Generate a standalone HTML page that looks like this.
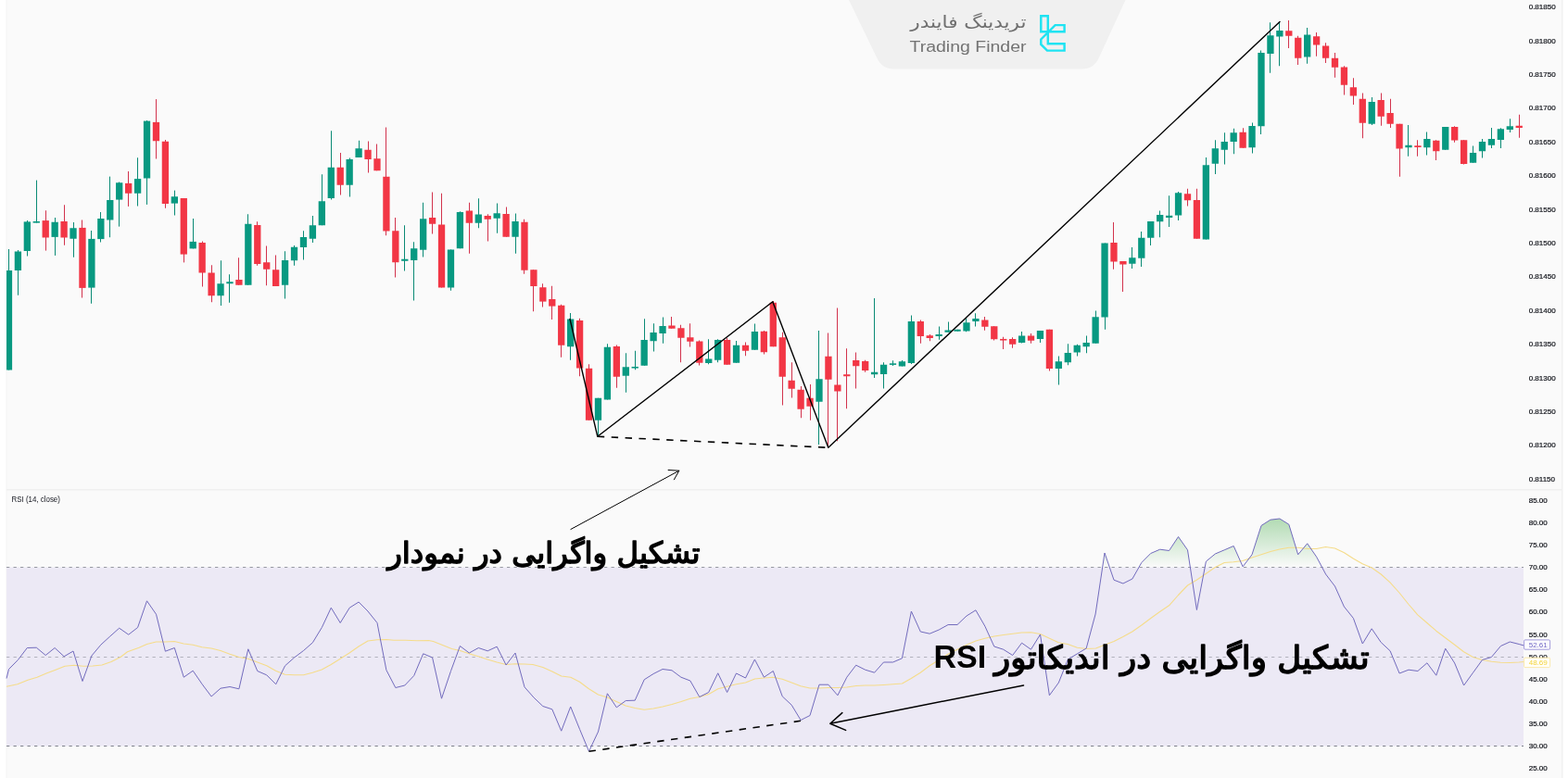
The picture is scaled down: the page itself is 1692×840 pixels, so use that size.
<!DOCTYPE html>
<html lang="fa">
<head>
<meta charset="utf-8">
<title>Trading Finder - RSI Divergence</title>
<style>
html,body{margin:0;padding:0;background:#fff;}
body{width:1692px;height:840px;overflow:hidden;}
svg{display:block;}
text{font-family:"Liberation Sans","DejaVu Sans",sans-serif;}
.ax{font-size:8px;fill:#0c0e15;stroke:#0c0e15;stroke-width:0.2px;}
.fa{font-family:"DejaVu Sans","Liberation Sans",sans-serif;font-weight:normal;fill:#000;stroke:#000;stroke-width:1.5px;stroke-linejoin:round;}
</style>
</head>
<body>
<svg width="1692" height="840" viewBox="0 0 1692 840">
<defs>
<linearGradient id="ob" x1="0" y1="612.5" x2="0" y2="556" gradientUnits="userSpaceOnUse">
<stop offset="0" stop-color="#4caf50" stop-opacity="0"/>
<stop offset="1" stop-color="#4caf50" stop-opacity="0.45"/>
</linearGradient>
<clipPath id="above70"><rect x="7" y="530" width="1637" height="82.5"/></clipPath>
</defs>
<rect x="0" y="0" width="1692" height="840" fill="#ffffff"/>
<rect x="7" y="0" width="1679" height="840" fill="#fafafa"/>
<rect x="6.5" y="0" width="1" height="840" fill="#f3f3f3"/>
<rect x="1685" y="0" width="1.5" height="840" fill="#f1f1f1"/>

<path d="M916 0 L1214.5 0 L1186 62 Q1180.5 74.5 1167 74.5 L965 74.5 Q951.5 74.5 946 62 Z" fill="#f0f0f0"/>
<rect x="7" y="528" width="1679" height="1.6" fill="#f0f0f0"/>
<rect x="7" y="612.5" width="1637" height="193" fill="#ece9f5"/>
<g stroke="#787b86" stroke-width="1" stroke-dasharray="3.3 4.2" fill="none">
<line x1="7" y1="612.5" x2="1644" y2="612.5" opacity="0.75"/>
<line x1="7" y1="709.5" x2="1644" y2="709.5" opacity="0.5"/>
<line x1="7" y1="805.5" x2="1644" y2="805.5" opacity="0.95"/>
</g>
<path d="M7.0 732.5 L9.5 722.5 L19.4 712.5 L29.3 699.5 L39.3 699.2 L49.2 707.5 L59.1 699.5 L69.1 708.8 L79.0 703.0 L89.0 735.5 L98.9 708.0 L108.8 696.2 L118.8 687.0 L128.7 678.2 L138.7 685.2 L148.6 677.5 L158.5 648.8 L168.5 663.2 L178.4 703.2 L188.3 699.5 L198.3 731.2 L208.2 724.2 L218.2 738.8 L228.1 752.0 L238.0 743.2 L248.0 741.5 L257.9 743.8 L267.8 700.8 L277.8 724.5 L287.7 728.8 L297.7 738.8 L307.6 718.8 L317.5 710.0 L327.5 702.5 L337.4 693.8 L347.3 677.5 L357.3 656.2 L367.2 672.5 L377.2 656.2 L387.1 650.0 L397.0 660.0 L407.0 672.5 L416.9 723.5 L426.8 742.5 L436.8 740.0 L446.7 729.5 L456.7 705.8 L466.6 710.0 L476.5 754.2 L486.5 724.5 L496.4 697.5 L506.3 705.0 L516.3 699.5 L526.2 702.8 L536.2 698.2 L546.1 718.0 L556.0 705.0 L566.0 741.8 L575.9 753.0 L585.8 762.5 L595.8 765.8 L605.7 789.2 L615.7 763.0 L625.6 787.5 L635.5 811.2 L645.5 790.0 L655.4 748.8 L665.3 763.8 L675.3 756.5 L685.2 756.2 L695.2 733.8 L705.1 727.5 L715.0 722.5 L725.0 723.8 L734.9 731.2 L744.8 735.0 L754.8 752.5 L764.7 747.5 L774.7 726.8 L784.6 747.5 L794.5 727.0 L804.5 732.0 L814.4 712.0 L824.4 731.2 L834.3 724.5 L844.2 751.8 L854.2 761.2 L864.1 777.5 L874.0 772.5 L884.0 739.2 L893.9 739.2 L903.9 750.8 L913.8 731.2 L923.7 718.2 L933.7 723.2 L943.6 726.2 L953.5 715.0 L963.5 715.0 L973.4 710.8 L983.4 660.0 L993.3 682.0 L1003.2 684.2 L1013.2 680.0 L1023.1 674.5 L1033.0 674.5 L1043.0 665.0 L1052.9 658.8 L1062.9 676.2 L1072.8 698.0 L1082.7 701.2 L1092.7 707.5 L1102.6 694.2 L1112.5 701.2 L1122.5 685.0 L1132.4 750.8 L1142.4 737.0 L1152.3 712.0 L1162.2 706.0 L1172.2 700.0 L1182.1 663.0 L1192.0 597.0 L1202.0 626.2 L1211.9 630.0 L1221.9 625.0 L1231.8 607.5 L1241.7 597.5 L1251.7 593.2 L1261.6 594.5 L1271.5 579.5 L1281.5 593.8 L1291.4 658.5 L1301.4 606.2 L1311.3 598.0 L1321.2 593.8 L1331.2 589.5 L1341.1 611.8 L1351.0 598.8 L1361.0 567.5 L1370.9 561.2 L1380.9 560.0 L1390.8 566.2 L1400.7 598.8 L1410.7 586.8 L1420.6 601.2 L1430.6 620.0 L1440.5 633.0 L1450.4 655.0 L1460.4 667.5 L1470.3 695.0 L1480.2 678.8 L1490.2 693.5 L1500.1 702.8 L1510.1 727.0 L1520.0 723.2 L1529.9 724.5 L1539.9 715.8 L1549.8 729.2 L1559.7 700.2 L1569.7 716.0 L1579.6 740.0 L1589.6 726.2 L1599.5 712.5 L1609.4 709.5 L1619.4 697.5 L1629.3 693.0 L1639.2 695.5 L1644.5 697.0 L1644.5 612.5 L7 612.5 Z" fill="url(#ob)" clip-path="url(#above70)"/>
<path d="M7.0 741.2 L18.8 738.8 L30.0 734.2 L40.0 731.2 L50.0 727.0 L60.0 723.2 L70.0 719.2 L80.0 718.2 L90.0 719.2 L100.0 719.0 L110.0 718.0 L120.0 714.5 L130.0 709.5 L137.5 703.8 L150.0 699.2 L158.5 695.5 L168.5 693.0 L178.5 693.0 L188.2 692.5 L198.2 695.0 L208.2 696.2 L218.0 698.8 L228.0 700.0 L238.0 702.5 L248.0 706.2 L257.8 709.5 L267.8 711.2 L277.8 715.0 L287.8 718.8 L297.5 724.2 L307.5 728.2 L317.5 728.8 L327.5 728.8 L337.2 726.2 L347.2 723.0 L357.2 717.5 L367.2 711.2 L377.0 705.0 L387.0 698.0 L397.0 692.0 L407.0 690.8 L417.0 690.5 L425.0 691.2 L437.5 691.2 L450.0 691.8 L462.5 691.5 L467.5 692.5 L475.0 695.5 L487.5 700.5 L496.5 702.5 L506.2 705.8 L516.2 708.8 L526.2 712.0 L536.2 715.0 L546.0 717.5 L556.0 716.8 L566.0 717.0 L575.0 717.5 L585.8 720.5 L595.8 725.0 L605.8 730.0 L615.8 731.2 L625.5 736.2 L635.5 743.8 L645.5 750.0 L655.5 753.0 L665.2 757.5 L675.2 762.0 L685.2 764.5 L695.2 766.2 L705.0 765.0 L715.0 763.0 L725.0 760.5 L735.0 757.5 L744.8 754.2 L754.8 752.5 L764.8 749.5 L774.8 743.8 L784.5 741.2 L794.5 738.8 L804.5 737.0 L814.5 733.0 L824.2 732.0 L834.2 731.2 L844.2 733.2 L854.2 737.0 L864.0 740.8 L874.0 743.0 L884.0 743.0 L894.0 742.5 L903.8 742.5 L913.8 742.0 L923.8 740.5 L933.8 740.0 L943.5 740.0 L953.5 739.5 L963.5 738.8 L973.5 738.0 L983.2 732.5 L993.2 726.2 L1003.2 718.8 L1013.2 712.5 L1023.0 706.2 L1033.0 701.2 L1043.0 696.2 L1053.0 692.0 L1062.8 689.2 L1072.8 687.0 L1082.8 685.5 L1092.8 684.2 L1102.5 683.0 L1112.5 682.8 L1122.5 684.5 L1132.5 689.2 L1142.2 693.8 L1152.2 695.5 L1162.5 699.2 L1172.5 700.5 L1182.5 700.0 L1192.0 696.2 L1202.0 692.5 L1211.8 687.5 L1221.8 682.0 L1231.8 675.0 L1241.8 667.5 L1251.5 660.5 L1261.5 653.8 L1271.5 642.5 L1281.5 632.0 L1291.2 626.2 L1301.2 619.5 L1311.2 612.5 L1321.2 607.5 L1331.0 606.8 L1341.0 605.5 L1351.0 602.0 L1361.0 598.8 L1371.0 595.5 L1380.8 593.0 L1390.8 591.2 L1400.8 591.2 L1410.8 592.5 L1420.5 592.5 L1430.5 590.5 L1440.5 592.0 L1450.5 596.8 L1460.2 603.0 L1470.2 608.8 L1480.2 613.0 L1490.2 620.0 L1500.0 628.8 L1510.0 640.0 L1520.0 652.5 L1529.8 663.8 L1539.8 672.5 L1549.8 681.2 L1559.8 688.8 L1569.8 696.2 L1579.5 703.8 L1589.5 709.5 L1599.5 712.5 L1609.5 714.2 L1619.2 715.2 L1629.2 715.5 L1639.2 715.0 L1644.5 714.5" fill="none" stroke="#f5dc8a" stroke-width="1.1" stroke-linejoin="round"/>
<path d="M7.0 732.5 L9.5 722.5 L19.4 712.5 L29.3 699.5 L39.3 699.2 L49.2 707.5 L59.1 699.5 L69.1 708.8 L79.0 703.0 L89.0 735.5 L98.9 708.0 L108.8 696.2 L118.8 687.0 L128.7 678.2 L138.7 685.2 L148.6 677.5 L158.5 648.8 L168.5 663.2 L178.4 703.2 L188.3 699.5 L198.3 731.2 L208.2 724.2 L218.2 738.8 L228.1 752.0 L238.0 743.2 L248.0 741.5 L257.9 743.8 L267.8 700.8 L277.8 724.5 L287.7 728.8 L297.7 738.8 L307.6 718.8 L317.5 710.0 L327.5 702.5 L337.4 693.8 L347.3 677.5 L357.3 656.2 L367.2 672.5 L377.2 656.2 L387.1 650.0 L397.0 660.0 L407.0 672.5 L416.9 723.5 L426.8 742.5 L436.8 740.0 L446.7 729.5 L456.7 705.8 L466.6 710.0 L476.5 754.2 L486.5 724.5 L496.4 697.5 L506.3 705.0 L516.3 699.5 L526.2 702.8 L536.2 698.2 L546.1 718.0 L556.0 705.0 L566.0 741.8 L575.9 753.0 L585.8 762.5 L595.8 765.8 L605.7 789.2 L615.7 763.0 L625.6 787.5 L635.5 811.2 L645.5 790.0 L655.4 748.8 L665.3 763.8 L675.3 756.5 L685.2 756.2 L695.2 733.8 L705.1 727.5 L715.0 722.5 L725.0 723.8 L734.9 731.2 L744.8 735.0 L754.8 752.5 L764.7 747.5 L774.7 726.8 L784.6 747.5 L794.5 727.0 L804.5 732.0 L814.4 712.0 L824.4 731.2 L834.3 724.5 L844.2 751.8 L854.2 761.2 L864.1 777.5 L874.0 772.5 L884.0 739.2 L893.9 739.2 L903.9 750.8 L913.8 731.2 L923.7 718.2 L933.7 723.2 L943.6 726.2 L953.5 715.0 L963.5 715.0 L973.4 710.8 L983.4 660.0 L993.3 682.0 L1003.2 684.2 L1013.2 680.0 L1023.1 674.5 L1033.0 674.5 L1043.0 665.0 L1052.9 658.8 L1062.9 676.2 L1072.8 698.0 L1082.7 701.2 L1092.7 707.5 L1102.6 694.2 L1112.5 701.2 L1122.5 685.0 L1132.4 750.8 L1142.4 737.0 L1152.3 712.0 L1162.2 706.0 L1172.2 700.0 L1182.1 663.0 L1192.0 597.0 L1202.0 626.2 L1211.9 630.0 L1221.9 625.0 L1231.8 607.5 L1241.7 597.5 L1251.7 593.2 L1261.6 594.5 L1271.5 579.5 L1281.5 593.8 L1291.4 658.5 L1301.4 606.2 L1311.3 598.0 L1321.2 593.8 L1331.2 589.5 L1341.1 611.8 L1351.0 598.8 L1361.0 567.5 L1370.9 561.2 L1380.9 560.0 L1390.8 566.2 L1400.7 598.8 L1410.7 586.8 L1420.6 601.2 L1430.6 620.0 L1440.5 633.0 L1450.4 655.0 L1460.4 667.5 L1470.3 695.0 L1480.2 678.8 L1490.2 693.5 L1500.1 702.8 L1510.1 727.0 L1520.0 723.2 L1529.9 724.5 L1539.9 715.8 L1549.8 729.2 L1559.7 700.2 L1569.7 716.0 L1579.6 740.0 L1589.6 726.2 L1599.5 712.5 L1609.4 709.5 L1619.4 697.5 L1629.3 693.0 L1639.2 695.5 L1644.5 697.0" fill="none" stroke="#726bbd" stroke-width="1" stroke-linejoin="round"/>
<g shape-rendering="auto">
<rect x="9" y="269.00" width="1" height="130.50" fill="#0a8a75"/>
<rect x="7.00" y="292.00" width="6.11" height="107.50" fill="#089981"/>
<rect x="19" y="270.00" width="1" height="48.75" fill="#0a8a75"/>
<rect x="15.75" y="271.50" width="7.30" height="20.50" fill="#089981"/>
<rect x="29" y="238.00" width="1" height="38.50" fill="#0a8a75"/>
<rect x="25.69" y="239.40" width="7.30" height="31.60" fill="#089981"/>
<rect x="39" y="194.60" width="1" height="46.00" fill="#0a8a75"/>
<rect x="35.62" y="239.00" width="7.30" height="1.60" fill="#089981"/>
<rect x="49" y="227.25" width="1" height="43.35" fill="#d2334d"/>
<rect x="45.56" y="238.10" width="7.30" height="18.40" fill="#f23645"/>
<rect x="59" y="235.00" width="1" height="40.90" fill="#0a8a75"/>
<rect x="55.50" y="239.75" width="7.30" height="16.15" fill="#089981"/>
<rect x="69" y="221.25" width="1" height="43.50" fill="#d2334d"/>
<rect x="65.44" y="239.00" width="7.30" height="17.50" fill="#f23645"/>
<rect x="79" y="240.00" width="1" height="37.75" fill="#0a8a75"/>
<rect x="75.37" y="246.25" width="7.30" height="11.50" fill="#089981"/>
<rect x="88" y="237.50" width="1" height="84.00" fill="#d2334d"/>
<rect x="85.31" y="245.90" width="7.30" height="65.00" fill="#f23645"/>
<rect x="98" y="249.00" width="1" height="78.75" fill="#0a8a75"/>
<rect x="95.25" y="257.90" width="7.30" height="52.70" fill="#089981"/>
<rect x="108" y="229.00" width="1" height="32.50" fill="#0a8a75"/>
<rect x="105.19" y="236.00" width="7.30" height="22.10" fill="#089981"/>
<rect x="118" y="190.60" width="1" height="65.65" fill="#0a8a75"/>
<rect x="115.12" y="216.00" width="7.30" height="21.50" fill="#089981"/>
<rect x="128" y="196.50" width="1" height="48.10" fill="#0a8a75"/>
<rect x="125.06" y="197.25" width="7.30" height="18.35" fill="#089981"/>
<rect x="138" y="185.00" width="1" height="37.90" fill="#d2334d"/>
<rect x="135.00" y="197.90" width="7.30" height="10.85" fill="#f23645"/>
<rect x="148" y="170.25" width="1" height="52.25" fill="#0a8a75"/>
<rect x="144.94" y="193.10" width="7.30" height="15.65" fill="#089981"/>
<rect x="158" y="130.00" width="1" height="90.90" fill="#0a8a75"/>
<rect x="154.88" y="130.60" width="7.30" height="61.90" fill="#089981"/>
<rect x="168" y="107.10" width="1" height="64.40" fill="#d2334d"/>
<rect x="164.81" y="131.90" width="7.30" height="20.35" fill="#f23645"/>
<rect x="178" y="151.00" width="1" height="73.75" fill="#d2334d"/>
<rect x="174.75" y="152.75" width="7.30" height="67.25" fill="#f23645"/>
<rect x="188" y="205.60" width="1" height="26.90" fill="#0a8a75"/>
<rect x="184.69" y="212.25" width="7.30" height="7.35" fill="#089981"/>
<rect x="198" y="214.00" width="1" height="69.40" fill="#d2334d"/>
<rect x="194.63" y="214.00" width="7.30" height="60.60" fill="#f23645"/>
<rect x="208" y="236.00" width="1" height="32.40" fill="#0a8a75"/>
<rect x="204.56" y="260.90" width="7.30" height="7.50" fill="#089981"/>
<rect x="218" y="260.50" width="1" height="49.00" fill="#d2334d"/>
<rect x="214.50" y="262.00" width="7.30" height="32.50" fill="#f23645"/>
<rect x="228" y="286.25" width="1" height="40.00" fill="#d2334d"/>
<rect x="224.44" y="294.50" width="7.30" height="24.75" fill="#f23645"/>
<rect x="238" y="281.25" width="1" height="48.75" fill="#0a8a75"/>
<rect x="234.38" y="306.25" width="7.30" height="13.00" fill="#089981"/>
<rect x="247" y="296.25" width="1" height="30.50" fill="#0a8a75"/>
<rect x="244.31" y="304.25" width="7.30" height="2.00" fill="#089981"/>
<rect x="257" y="278.25" width="1" height="29.50" fill="#d2334d"/>
<rect x="254.25" y="302.00" width="7.30" height="5.75" fill="#f23645"/>
<rect x="267" y="231.25" width="1" height="76.50" fill="#0a8a75"/>
<rect x="264.19" y="241.75" width="7.30" height="66.00" fill="#089981"/>
<rect x="277" y="239.25" width="1" height="47.50" fill="#d2334d"/>
<rect x="274.13" y="243.00" width="7.30" height="42.00" fill="#f23645"/>
<rect x="287" y="265.50" width="1" height="42.75" fill="#d2334d"/>
<rect x="284.07" y="283.25" width="7.30" height="7.50" fill="#f23645"/>
<rect x="297" y="275.50" width="1" height="33.50" fill="#d2334d"/>
<rect x="294.00" y="291.25" width="7.30" height="17.75" fill="#f23645"/>
<rect x="307" y="271.25" width="1" height="51.25" fill="#0a8a75"/>
<rect x="303.94" y="281.00" width="7.30" height="26.75" fill="#089981"/>
<rect x="317" y="265.00" width="1" height="21.75" fill="#0a8a75"/>
<rect x="313.88" y="266.75" width="7.30" height="14.50" fill="#089981"/>
<rect x="327" y="249.25" width="1" height="31.25" fill="#0a8a75"/>
<rect x="323.82" y="256.00" width="7.30" height="11.00" fill="#089981"/>
<rect x="337" y="233.00" width="1" height="29.00" fill="#0a8a75"/>
<rect x="333.75" y="243.25" width="7.30" height="14.50" fill="#089981"/>
<rect x="347" y="188.25" width="1" height="55.00" fill="#0a8a75"/>
<rect x="343.69" y="217.25" width="7.30" height="26.00" fill="#089981"/>
<rect x="357" y="141.25" width="1" height="74.25" fill="#0a8a75"/>
<rect x="353.63" y="180.75" width="7.30" height="33.25" fill="#089981"/>
<rect x="367" y="165.00" width="1" height="45.50" fill="#d2334d"/>
<rect x="363.57" y="180.75" width="7.30" height="19.00" fill="#f23645"/>
<rect x="377" y="170.50" width="1" height="42.00" fill="#0a8a75"/>
<rect x="373.50" y="172.00" width="7.30" height="27.75" fill="#089981"/>
<rect x="387" y="151.75" width="1" height="18.25" fill="#0a8a75"/>
<rect x="383.44" y="160.25" width="7.30" height="9.75" fill="#089981"/>
<rect x="397" y="152.50" width="1" height="34.00" fill="#d2334d"/>
<rect x="393.38" y="161.75" width="7.30" height="10.25" fill="#f23645"/>
<rect x="406" y="155.50" width="1" height="28.75" fill="#d2334d"/>
<rect x="403.32" y="171.25" width="7.30" height="13.00" fill="#f23645"/>
<rect x="416" y="137.50" width="1" height="116.75" fill="#d2334d"/>
<rect x="413.26" y="190.75" width="7.30" height="58.75" fill="#f23645"/>
<rect x="426" y="235.00" width="1" height="64.50" fill="#d2334d"/>
<rect x="423.19" y="249.25" width="7.30" height="34.00" fill="#f23645"/>
<rect x="436" y="243.25" width="1" height="49.25" fill="#0a8a75"/>
<rect x="433.13" y="279.75" width="7.30" height="2.00" fill="#089981"/>
<rect x="446" y="261.25" width="1" height="63.25" fill="#0a8a75"/>
<rect x="443.07" y="268.25" width="7.30" height="12.75" fill="#089981"/>
<rect x="456" y="218.75" width="1" height="58.75" fill="#0a8a75"/>
<rect x="453.01" y="236.25" width="7.30" height="33.50" fill="#089981"/>
<rect x="466" y="207.50" width="1" height="45.00" fill="#d2334d"/>
<rect x="462.94" y="235.00" width="7.30" height="6.75" fill="#f23645"/>
<rect x="476" y="208.75" width="1" height="101.75" fill="#d2334d"/>
<rect x="472.88" y="242.50" width="7.30" height="68.00" fill="#f23645"/>
<rect x="486" y="269.50" width="1" height="44.25" fill="#0a8a75"/>
<rect x="482.82" y="269.50" width="7.30" height="41.00" fill="#089981"/>
<rect x="496" y="228.25" width="1" height="40.00" fill="#0a8a75"/>
<rect x="492.76" y="229.00" width="7.30" height="39.25" fill="#089981"/>
<rect x="506" y="218.75" width="1" height="55.00" fill="#d2334d"/>
<rect x="502.69" y="227.50" width="7.30" height="13.25" fill="#f23645"/>
<rect x="516" y="214.25" width="1" height="32.00" fill="#0a8a75"/>
<rect x="512.63" y="231.50" width="7.30" height="9.25" fill="#089981"/>
<rect x="526" y="231.25" width="1" height="29.25" fill="#d2334d"/>
<rect x="522.57" y="233.00" width="7.30" height="3.75" fill="#f23645"/>
<rect x="536" y="219.50" width="1" height="32.25" fill="#0a8a75"/>
<rect x="532.51" y="230.25" width="7.30" height="5.50" fill="#089981"/>
<rect x="546" y="223.50" width="1" height="32.25" fill="#d2334d"/>
<rect x="542.45" y="231.00" width="7.30" height="24.75" fill="#f23645"/>
<rect x="556" y="230.50" width="1" height="43.25" fill="#0a8a75"/>
<rect x="552.38" y="239.00" width="7.30" height="16.75" fill="#089981"/>
<rect x="565" y="236.75" width="1" height="59.00" fill="#d2334d"/>
<rect x="562.32" y="239.75" width="7.30" height="52.00" fill="#f23645"/>
<rect x="575" y="291.25" width="1" height="45.00" fill="#d2334d"/>
<rect x="572.26" y="291.25" width="7.30" height="17.75" fill="#f23645"/>
<rect x="585" y="306.25" width="1" height="25.25" fill="#d2334d"/>
<rect x="582.20" y="310.25" width="7.30" height="15.35" fill="#f23645"/>
<rect x="595" y="308.75" width="1" height="36.25" fill="#d2334d"/>
<rect x="592.13" y="323.00" width="7.30" height="7.60" fill="#f23645"/>
<rect x="605" y="328.75" width="1" height="57.00" fill="#d2334d"/>
<rect x="602.07" y="329.75" width="7.30" height="43.00" fill="#f23645"/>
<rect x="615" y="338.00" width="1" height="50.75" fill="#0a8a75"/>
<rect x="612.01" y="344.50" width="7.30" height="29.75" fill="#089981"/>
<rect x="625" y="343.75" width="1" height="62.50" fill="#d2334d"/>
<rect x="621.95" y="346.00" width="7.30" height="51.50" fill="#f23645"/>
<rect x="635" y="393.25" width="1" height="60.50" fill="#d2334d"/>
<rect x="631.89" y="397.75" width="7.30" height="56.00" fill="#f23645"/>
<rect x="645" y="429.75" width="1" height="41.50" fill="#0a8a75"/>
<rect x="641.82" y="429.75" width="7.30" height="24.00" fill="#089981"/>
<rect x="655" y="371.25" width="1" height="60.25" fill="#0a8a75"/>
<rect x="651.76" y="374.75" width="7.30" height="56.75" fill="#089981"/>
<rect x="665" y="372.50" width="1" height="46.25" fill="#d2334d"/>
<rect x="661.70" y="374.00" width="7.30" height="32.75" fill="#f23645"/>
<rect x="675" y="381.25" width="1" height="42.50" fill="#0a8a75"/>
<rect x="671.64" y="396.25" width="7.30" height="9.50" fill="#089981"/>
<rect x="685" y="378.75" width="1" height="20.50" fill="#0a8a75"/>
<rect x="681.57" y="395.95" width="7.30" height="1.60" fill="#089981"/>
<rect x="695" y="344.25" width="1" height="50.50" fill="#0a8a75"/>
<rect x="691.51" y="367.00" width="7.30" height="27.75" fill="#089981"/>
<rect x="705" y="349.25" width="1" height="30.25" fill="#0a8a75"/>
<rect x="701.45" y="359.00" width="7.30" height="9.25" fill="#089981"/>
<rect x="715" y="342.50" width="1" height="28.25" fill="#0a8a75"/>
<rect x="711.39" y="352.00" width="7.30" height="8.00" fill="#089981"/>
<rect x="724" y="342.00" width="1" height="12.75" fill="#d2334d"/>
<rect x="721.32" y="351.50" width="7.30" height="3.25" fill="#f23645"/>
<rect x="734" y="350.75" width="1" height="40.50" fill="#d2334d"/>
<rect x="731.26" y="354.25" width="7.30" height="10.50" fill="#f23645"/>
<rect x="744" y="349.25" width="1" height="25.25" fill="#d2334d"/>
<rect x="741.20" y="364.25" width="7.30" height="4.50" fill="#f23645"/>
<rect x="754" y="367.50" width="1" height="27.00" fill="#d2334d"/>
<rect x="751.14" y="368.50" width="7.30" height="23.25" fill="#f23645"/>
<rect x="764" y="366.25" width="1" height="27.00" fill="#0a8a75"/>
<rect x="761.08" y="387.50" width="7.30" height="4.50" fill="#089981"/>
<rect x="774" y="366.25" width="1" height="25.00" fill="#0a8a75"/>
<rect x="771.01" y="367.00" width="7.30" height="21.75" fill="#089981"/>
<rect x="784" y="365.00" width="1" height="28.75" fill="#d2334d"/>
<rect x="780.95" y="367.00" width="7.30" height="26.75" fill="#f23645"/>
<rect x="794" y="368.00" width="1" height="23.75" fill="#0a8a75"/>
<rect x="790.89" y="372.75" width="7.30" height="19.00" fill="#089981"/>
<rect x="804" y="369.50" width="1" height="14.75" fill="#d2334d"/>
<rect x="800.83" y="372.75" width="7.30" height="6.00" fill="#f23645"/>
<rect x="814" y="349.50" width="1" height="28.25" fill="#0a8a75"/>
<rect x="810.76" y="358.00" width="7.30" height="19.75" fill="#089981"/>
<rect x="824" y="357.00" width="1" height="25.50" fill="#d2334d"/>
<rect x="820.70" y="357.75" width="7.30" height="22.50" fill="#f23645"/>
<rect x="834" y="325.00" width="1" height="49.25" fill="#d2334d"/>
<rect x="830.64" y="326.75" width="7.30" height="47.50" fill="#f23645"/>
<rect x="844" y="358.75" width="1" height="78.75" fill="#d2334d"/>
<rect x="840.58" y="364.25" width="7.30" height="42.50" fill="#f23645"/>
<rect x="854" y="391.25" width="1" height="38.25" fill="#d2334d"/>
<rect x="850.51" y="410.75" width="7.30" height="9.00" fill="#f23645"/>
<rect x="864" y="417.00" width="1" height="34.25" fill="#d2334d"/>
<rect x="860.45" y="420.75" width="7.30" height="21.00" fill="#f23645"/>
<rect x="874" y="415.00" width="1" height="38.75" fill="#d2334d"/>
<rect x="870.39" y="429.75" width="7.30" height="9.00" fill="#f23645"/>
<rect x="883" y="357.00" width="1" height="123.00" fill="#0a8a75"/>
<rect x="880.33" y="409.25" width="7.30" height="24.50" fill="#089981"/>
<rect x="893" y="359.50" width="1" height="123.00" fill="#d2334d"/>
<rect x="890.27" y="384.75" width="7.30" height="25.00" fill="#f23645"/>
<rect x="903" y="332.50" width="1" height="143.75" fill="#d2334d"/>
<rect x="900.20" y="415.50" width="7.30" height="7.00" fill="#f23645"/>
<rect x="913" y="376.25" width="1" height="65.00" fill="#d2334d"/>
<rect x="910.14" y="404.25" width="7.30" height="2.00" fill="#f23645"/>
<rect x="923" y="380.50" width="1" height="39.00" fill="#d2334d"/>
<rect x="920.08" y="389.00" width="7.30" height="6.25" fill="#f23645"/>
<rect x="933" y="388.75" width="1" height="13.00" fill="#d2334d"/>
<rect x="930.02" y="390.00" width="7.30" height="10.00" fill="#f23645"/>
<rect x="943" y="322.00" width="1" height="86.00" fill="#0a8a75"/>
<rect x="939.95" y="401.75" width="7.30" height="2.50" fill="#089981"/>
<rect x="953" y="391.25" width="1" height="28.25" fill="#0a8a75"/>
<rect x="949.89" y="393.75" width="7.30" height="10.25" fill="#089981"/>
<rect x="963" y="389.25" width="1" height="5.75" fill="#0a8a75"/>
<rect x="959.83" y="392.32" width="7.30" height="1.60" fill="#089981"/>
<rect x="973" y="389.00" width="1" height="6.50" fill="#0a8a75"/>
<rect x="969.77" y="390.25" width="7.30" height="5.25" fill="#089981"/>
<rect x="983" y="340.50" width="1" height="52.50" fill="#0a8a75"/>
<rect x="979.70" y="347.00" width="7.30" height="45.00" fill="#089981"/>
<rect x="993" y="345.50" width="1" height="25.25" fill="#d2334d"/>
<rect x="989.64" y="347.00" width="7.30" height="16.00" fill="#f23645"/>
<rect x="1003" y="361.00" width="1" height="7.25" fill="#d2334d"/>
<rect x="999.58" y="362.25" width="7.30" height="2.75" fill="#f23645"/>
<rect x="1013" y="352.50" width="1" height="14.25" fill="#0a8a75"/>
<rect x="1009.52" y="361.00" width="7.30" height="2.00" fill="#089981"/>
<rect x="1023" y="347.50" width="1" height="11.25" fill="#0a8a75"/>
<rect x="1019.46" y="356.50" width="7.30" height="2.25" fill="#089981"/>
<rect x="1033" y="355.75" width="1" height="2.00" fill="#0a8a75"/>
<rect x="1029.39" y="355.75" width="7.30" height="2.00" fill="#089981"/>
<rect x="1042" y="343.00" width="1" height="15.25" fill="#0a8a75"/>
<rect x="1039.33" y="348.25" width="7.30" height="9.25" fill="#089981"/>
<rect x="1052" y="338.25" width="1" height="14.25" fill="#0a8a75"/>
<rect x="1049.27" y="344.00" width="7.30" height="3.00" fill="#089981"/>
<rect x="1062" y="342.00" width="1" height="14.75" fill="#d2334d"/>
<rect x="1059.21" y="345.50" width="7.30" height="7.25" fill="#f23645"/>
<rect x="1072" y="352.25" width="1" height="15.25" fill="#d2334d"/>
<rect x="1069.14" y="352.25" width="7.30" height="14.00" fill="#f23645"/>
<rect x="1082" y="363.75" width="1" height="13.25" fill="#d2334d"/>
<rect x="1079.08" y="365.95" width="7.30" height="1.60" fill="#f23645"/>
<rect x="1092" y="364.25" width="1" height="11.50" fill="#d2334d"/>
<rect x="1089.02" y="366.00" width="7.30" height="5.75" fill="#f23645"/>
<rect x="1102" y="358.00" width="1" height="12.50" fill="#0a8a75"/>
<rect x="1098.96" y="362.50" width="7.30" height="7.50" fill="#089981"/>
<rect x="1112" y="360.00" width="1" height="10.75" fill="#d2334d"/>
<rect x="1108.89" y="362.50" width="7.30" height="5.25" fill="#f23645"/>
<rect x="1122" y="357.00" width="1" height="13.00" fill="#0a8a75"/>
<rect x="1118.83" y="357.00" width="7.30" height="9.00" fill="#089981"/>
<rect x="1132" y="355.75" width="1" height="44.75" fill="#d2334d"/>
<rect x="1128.77" y="355.75" width="7.30" height="42.25" fill="#f23645"/>
<rect x="1142" y="384.50" width="1" height="31.00" fill="#0a8a75"/>
<rect x="1138.71" y="390.25" width="7.30" height="7.75" fill="#089981"/>
<rect x="1152" y="371.25" width="1" height="23.00" fill="#0a8a75"/>
<rect x="1148.65" y="381.00" width="7.30" height="10.25" fill="#089981"/>
<rect x="1162" y="371.75" width="1" height="12.75" fill="#0a8a75"/>
<rect x="1158.58" y="372.75" width="7.30" height="7.75" fill="#089981"/>
<rect x="1172" y="362.50" width="1" height="18.75" fill="#0a8a75"/>
<rect x="1168.52" y="370.00" width="7.30" height="4.25" fill="#089981"/>
<rect x="1182" y="335.50" width="1" height="35.25" fill="#0a8a75"/>
<rect x="1178.46" y="342.25" width="7.30" height="28.50" fill="#089981"/>
<rect x="1192" y="262.50" width="1" height="93.25" fill="#0a8a75"/>
<rect x="1188.40" y="262.50" width="7.30" height="80.00" fill="#089981"/>
<rect x="1201" y="240.00" width="1" height="50.75" fill="#d2334d"/>
<rect x="1198.33" y="262.00" width="7.30" height="20.50" fill="#f23645"/>
<rect x="1211" y="282.00" width="1" height="33.00" fill="#d2334d"/>
<rect x="1208.27" y="282.00" width="7.30" height="3.50" fill="#f23645"/>
<rect x="1221" y="267.00" width="1" height="23.00" fill="#0a8a75"/>
<rect x="1218.21" y="278.25" width="7.30" height="6.50" fill="#089981"/>
<rect x="1231" y="250.00" width="1" height="38.00" fill="#0a8a75"/>
<rect x="1228.15" y="256.75" width="7.30" height="22.00" fill="#089981"/>
<rect x="1241" y="239.00" width="1" height="26.00" fill="#0a8a75"/>
<rect x="1238.08" y="239.00" width="7.30" height="17.75" fill="#089981"/>
<rect x="1251" y="227.50" width="1" height="28.75" fill="#0a8a75"/>
<rect x="1248.02" y="232.00" width="7.30" height="7.25" fill="#089981"/>
<rect x="1261" y="211.25" width="1" height="33.75" fill="#0a8a75"/>
<rect x="1257.96" y="232.75" width="7.30" height="2.25" fill="#089981"/>
<rect x="1271" y="207.00" width="1" height="31.00" fill="#0a8a75"/>
<rect x="1267.90" y="208.25" width="7.30" height="24.25" fill="#089981"/>
<rect x="1281" y="203.75" width="1" height="18.75" fill="#d2334d"/>
<rect x="1277.84" y="209.25" width="7.30" height="7.00" fill="#f23645"/>
<rect x="1291" y="203.75" width="1" height="54.00" fill="#d2334d"/>
<rect x="1287.77" y="216.00" width="7.30" height="41.75" fill="#f23645"/>
<rect x="1301" y="170.00" width="1" height="88.50" fill="#0a8a75"/>
<rect x="1297.71" y="178.25" width="7.30" height="80.25" fill="#089981"/>
<rect x="1311" y="151.25" width="1" height="36.75" fill="#0a8a75"/>
<rect x="1307.65" y="160.25" width="7.30" height="16.50" fill="#089981"/>
<rect x="1321" y="143.25" width="1" height="34.25" fill="#0a8a75"/>
<rect x="1317.59" y="153.00" width="7.30" height="8.75" fill="#089981"/>
<rect x="1331" y="138.75" width="1" height="27.50" fill="#0a8a75"/>
<rect x="1327.52" y="143.25" width="7.30" height="9.75" fill="#089981"/>
<rect x="1341" y="138.25" width="1" height="21.50" fill="#d2334d"/>
<rect x="1337.46" y="142.75" width="7.30" height="17.00" fill="#f23645"/>
<rect x="1351" y="132.50" width="1" height="33.00" fill="#0a8a75"/>
<rect x="1347.40" y="136.00" width="7.30" height="23.25" fill="#089981"/>
<rect x="1360" y="54.50" width="1" height="90.50" fill="#0a8a75"/>
<rect x="1357.34" y="57.00" width="7.30" height="79.25" fill="#089981"/>
<rect x="1370" y="24.25" width="1" height="54.50" fill="#0a8a75"/>
<rect x="1367.27" y="38.25" width="7.30" height="19.75" fill="#089981"/>
<rect x="1380" y="23.75" width="1" height="47.50" fill="#0a8a75"/>
<rect x="1377.21" y="33.00" width="7.30" height="6.50" fill="#089981"/>
<rect x="1390" y="22.00" width="1" height="30.00" fill="#d2334d"/>
<rect x="1387.15" y="33.25" width="7.30" height="5.50" fill="#f23645"/>
<rect x="1400" y="38.75" width="1" height="31.25" fill="#d2334d"/>
<rect x="1397.09" y="40.75" width="7.30" height="22.00" fill="#f23645"/>
<rect x="1410" y="30.00" width="1" height="38.75" fill="#0a8a75"/>
<rect x="1407.03" y="37.50" width="7.30" height="24.00" fill="#089981"/>
<rect x="1420" y="35.00" width="1" height="25.75" fill="#d2334d"/>
<rect x="1416.96" y="39.25" width="7.30" height="9.25" fill="#f23645"/>
<rect x="1430" y="46.25" width="1" height="21.75" fill="#d2334d"/>
<rect x="1426.90" y="49.50" width="7.30" height="13.25" fill="#f23645"/>
<rect x="1440" y="57.00" width="1" height="26.75" fill="#d2334d"/>
<rect x="1436.84" y="62.75" width="7.30" height="10.00" fill="#f23645"/>
<rect x="1450" y="71.25" width="1" height="31.25" fill="#d2334d"/>
<rect x="1446.78" y="72.50" width="7.30" height="19.25" fill="#f23645"/>
<rect x="1460" y="84.25" width="1" height="28.75" fill="#d2334d"/>
<rect x="1456.71" y="94.25" width="7.30" height="9.25" fill="#f23645"/>
<rect x="1470" y="100.50" width="1" height="48.75" fill="#d2334d"/>
<rect x="1466.65" y="106.75" width="7.30" height="26.00" fill="#f23645"/>
<rect x="1480" y="105.00" width="1" height="30.00" fill="#0a8a75"/>
<rect x="1476.59" y="110.00" width="7.30" height="23.75" fill="#089981"/>
<rect x="1490" y="100.50" width="1" height="35.25" fill="#d2334d"/>
<rect x="1486.53" y="108.00" width="7.30" height="17.75" fill="#f23645"/>
<rect x="1500" y="106.75" width="1" height="31.25" fill="#d2334d"/>
<rect x="1496.46" y="122.00" width="7.30" height="11.75" fill="#f23645"/>
<rect x="1510" y="133.75" width="1" height="57.00" fill="#d2334d"/>
<rect x="1506.40" y="133.75" width="7.30" height="26.75" fill="#f23645"/>
<rect x="1519" y="135.00" width="1" height="33.75" fill="#0a8a75"/>
<rect x="1516.34" y="156.75" width="7.30" height="2.50" fill="#089981"/>
<rect x="1529" y="151.25" width="1" height="17.50" fill="#d2334d"/>
<rect x="1526.28" y="157.25" width="7.30" height="1.75" fill="#f23645"/>
<rect x="1539" y="142.50" width="1" height="25.00" fill="#0a8a75"/>
<rect x="1536.22" y="150.00" width="7.30" height="9.25" fill="#089981"/>
<rect x="1549" y="151.25" width="1" height="21.75" fill="#d2334d"/>
<rect x="1546.15" y="151.75" width="7.30" height="11.50" fill="#f23645"/>
<rect x="1559" y="137.00" width="1" height="24.75" fill="#0a8a75"/>
<rect x="1556.09" y="137.00" width="7.30" height="24.75" fill="#089981"/>
<rect x="1569" y="136.25" width="1" height="17.50" fill="#d2334d"/>
<rect x="1566.03" y="137.00" width="7.30" height="14.50" fill="#f23645"/>
<rect x="1579" y="151.25" width="1" height="26.25" fill="#d2334d"/>
<rect x="1575.97" y="151.25" width="7.30" height="25.75" fill="#f23645"/>
<rect x="1589" y="157.50" width="1" height="18.25" fill="#0a8a75"/>
<rect x="1585.90" y="165.00" width="7.30" height="10.75" fill="#089981"/>
<rect x="1599" y="150.00" width="1" height="20.50" fill="#0a8a75"/>
<rect x="1595.84" y="153.00" width="7.30" height="10.25" fill="#089981"/>
<rect x="1609" y="138.00" width="1" height="22.00" fill="#0a8a75"/>
<rect x="1605.78" y="150.00" width="7.30" height="6.75" fill="#089981"/>
<rect x="1619" y="138.25" width="1" height="21.75" fill="#0a8a75"/>
<rect x="1615.72" y="139.25" width="7.30" height="11.75" fill="#089981"/>
<rect x="1629" y="128.25" width="1" height="14.75" fill="#0a8a75"/>
<rect x="1625.66" y="136.25" width="7.30" height="3.75" fill="#089981"/>
<rect x="1639" y="123.75" width="1" height="25.00" fill="#d2334d"/>
<rect x="1635.59" y="135.75" width="7.30" height="2.25" fill="#f23645"/>
</g>
<g stroke="#000" stroke-width="1.4" fill="none" stroke-linecap="round" stroke-linejoin="round">
<path d="M615 344.5 L644.8 471.3 L833.8 325.8 L893.8 483.3 L1381 23.5"/>
<path d="M644.8 471.3 L893.8 483.3" stroke-dasharray="7.4 7.5" stroke-linecap="butt" stroke-width="1.6"/>
<path d="M635.5 811.3 L864 778.3" stroke-dasharray="7.4 7.5" stroke-linecap="butt" stroke-width="1.6"/>
</g>
<g stroke="#000" fill="none" stroke-linecap="round" stroke-linejoin="round">
<path d="M615.9 571.5 L732.8 508.2 M721.1 507.5 L732.8 508.2 L727.4 517.8" stroke-width="1"/>
<path d="M1104.5 740 L895.8 781.2 M908.8 769.6 L895.8 781.2 L912.6 788.4" stroke-width="1.5"/>
</g>
<text id="t1" class="fa" transform="translate(755.6,608.1) scale(1.012,1)" x="0" y="0" font-size="32" direction="rtl">تشکیل واگرایی در نمودار</text>
<text id="t2" class="fa" transform="translate(1477.6,721.6) scale(1.035,1)" x="0" y="0" font-size="34.5" direction="rtl">تشکیل واگرایی در اندیکاتور</text>
<text id="t3" x="1007.4" y="721.3" font-size="34.6" font-weight="bold" fill="#000" textLength="56.8" lengthAdjust="spacingAndGlyphs">RSI</text>
<text id="l1" transform="translate(1107.5,30.4) scale(1.2,1)" x="0" y="0" font-size="18" fill="#6f6f6f" direction="rtl" style="font-family:'DejaVu Sans',sans-serif">تریدینگ فایندر</text>
<text id="l2" x="981.5" y="55.7" font-size="16" fill="#737373" textLength="126" lengthAdjust="spacingAndGlyphs">Trading Finder</text>
<g stroke="#1fe3f2" stroke-width="2.45" fill="none" stroke-linejoin="miter">
<path d="M1123.3 17.2 H1130.8 V34.2 H1123.3 Z"/>
<path d="M1131.5 34.2 H1148.6 V27.1 H1138.6 L1123.3 42.5 V47.9 L1130 54.6 H1148.6 V47.2 H1130.8 V35.5"/>
</g>
<text id="rl" x="12.5" y="542.3" font-size="8.2" fill="#14161f" textLength="52.4" lengthAdjust="spacingAndGlyphs">RSI (14, close)</text>
<text class="ax" x="1649.7" y="10.1">0.81850</text>
<text class="ax" x="1649.7" y="46.5">0.81800</text>
<text class="ax" x="1649.7" y="82.9">0.81750</text>
<text class="ax" x="1649.7" y="119.3">0.81700</text>
<text class="ax" x="1649.7" y="155.7">0.81650</text>
<text class="ax" x="1649.7" y="192.1">0.81600</text>
<text class="ax" x="1649.7" y="228.5">0.81550</text>
<text class="ax" x="1649.7" y="264.9">0.81500</text>
<text class="ax" x="1649.7" y="301.3">0.81450</text>
<text class="ax" x="1649.7" y="337.7">0.81400</text>
<text class="ax" x="1649.7" y="374.1">0.81350</text>
<text class="ax" x="1649.7" y="410.5">0.81300</text>
<text class="ax" x="1649.7" y="446.9">0.81250</text>
<text class="ax" x="1649.7" y="483.3">0.81200</text>
<text class="ax" x="1649.7" y="519.7">0.81150</text>
<text class="ax" x="1649.7" y="542.6">85.00</text>
<text class="ax" x="1649.7" y="566.8">80.00</text>
<text class="ax" x="1649.7" y="590.9">75.00</text>
<text class="ax" x="1649.7" y="615.1">70.00</text>
<text class="ax" x="1649.7" y="639.2">65.00</text>
<text class="ax" x="1649.7" y="663.4">60.00</text>
<text class="ax" x="1649.7" y="687.5">55.00</text>
<text class="ax" x="1649.7" y="711.6">50.00</text>
<text class="ax" x="1649.7" y="735.8">45.00</text>
<text class="ax" x="1649.7" y="760.0">40.00</text>
<text class="ax" x="1649.7" y="784.1">35.00</text>
<text class="ax" x="1649.7" y="808.2">30.00</text>
<text class="ax" x="1649.7" y="832.4">25.00</text>
<rect x="1644.6" y="690.9" width="28" height="10.3" rx="1.2" fill="#fbfbfe" stroke="#9a92d8" stroke-width="0.9"/>
<text x="1649.7" y="699" font-size="8" fill="#7369c6">52.61</text>
<rect x="1644.6" y="710.2" width="28" height="10.4" rx="1.2" fill="#fffef8" stroke="#fbe7a3" stroke-width="0.9"/>
<text x="1649.7" y="718.4" font-size="8" fill="#f3d43c">48.69</text>
</svg>
</body>
</html>
